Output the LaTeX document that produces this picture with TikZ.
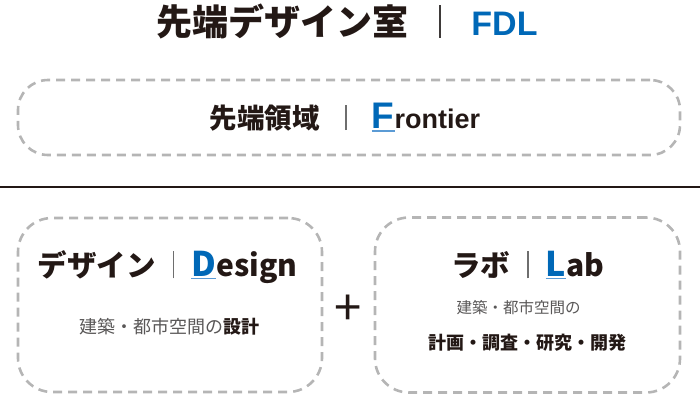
\documentclass[tikz,border=0pt]{standalone}
\usepackage{fontspec}
\setmainfont{Noto Sans CJK JP}
\newfontfamily\latinfont{Liberation Sans}
\definecolor{inkdark}{HTML}{231815}
\definecolor{inkgray}{HTML}{595757}
\definecolor{fdlblue}{HTML}{0068B7}
\definecolor{ulblue}{HTML}{5B9BD5}
\definecolor{zonegray}{HTML}{B5B5B5}
\definecolor{sepgray}{HTML}{6E6E6E}
\definecolor{sepdark}{HTML}{3E3A39}
% separator bar between the japanese and the latin part
\newcommand{\sepbar}[2]{\hspace{#1}\textcolor{#2}{\rule[-0.08em]{0.05em}{0.92em}}\hspace{#1}}
% blue first letter (larger) with a thin underline
\newcommand{\initial}[2]{{\fontsize{#1}{#1}\selectfont\setbox0\hbox{#2}\rlap{\textcolor{ulblue}{\rule[-0.1em]{\wd0}{0.045em}}}\textcolor{fdlblue}{#2}}}
\tikzset{
every picture/.style={line width=1pt},
zone/.style={draw=zonegray, line width=2.6pt, dash pattern=on 9pt off 6pt, rounded corners=#1, inner sep=0pt},
zone/.default=34pt,
heading/.style={text=inkdark, font=\bfseries\fontsize{29.5}{32}\selectfont, inner sep=0pt, anchor=base},
subline/.style={text=inkgray, font=\fontsize{18}{21}\selectfont, inner sep=0pt}
}

\begin{document}
\begin{tikzpicture}[x=1pt,y=-1pt]
  \useasboundingbox (0,0) rectangle (700,400);
  % title
  \node[heading, font=\bfseries\fontsize{36}{38}\selectfont] (title) at (347,35)
    {先端デザイン室\sepbar{0.85em}{sepdark}{\latinfont\fontsize{34}{36}\selectfont\textcolor{fdlblue}{FDL}}};
  % frontier
  \node[zone=30pt, minimum width=662pt, minimum height=75pt] (frontier) at (349,117.5) {};
  \node[heading, font=\bfseries\fontsize{27.5}{30}\selectfont] (frontiertext) at (345,128)
    {先端領域\sepbar{0.92em}{sepgray}{\latinfont\fontsize{27}{30}\selectfont\initial{37}{F}rontier}};
  % divider
  \coordinate (divl) at (0,187);
  \coordinate (divr) at (700,187);
  \draw[inkdark, line width=2pt] (divl) -- (divr);
  % design
  \node[zone, minimum width=304pt, minimum height=174pt] (design) at (170,305) {};
  \node[heading] (designtext) at (167.5,276)
    {デザイン\sepbar{0.58em}{sepgray}{\fontsize{30}{32}\selectfont\initial{34}{D}esign}};
  \node[subline] (designsub) at (169,327) {建築・都市空間の\textcolor{inkdark}{\bfseries 設計}};
  % plus
  \node[text=inkdark, font=\fontsize{49}{50}\selectfont, inner sep=0pt] (plus) at (348.5,310) {+};
  % lab
  \node[zone, minimum width=305pt, minimum height=175pt] (lab) at (527.5,305) {};
  \node[heading] (labtext) at (527.5,276)
    {ラボ\sepbar{0.58em}{sepgray}{\fontsize{30}{32}\selectfont\initial{34}{L}ab}};
  \node[subline, font=\fontsize{15.5}{18}\selectfont] (labsub) at (518.5,308) {建築・都市空間の};
  \node[subline, text=inkdark, font=\bfseries\fontsize{18}{20}\selectfont] (labwork) at (527.5,343)
    {計画・調査・研究・開発};
\end{tikzpicture}
\end{document}
